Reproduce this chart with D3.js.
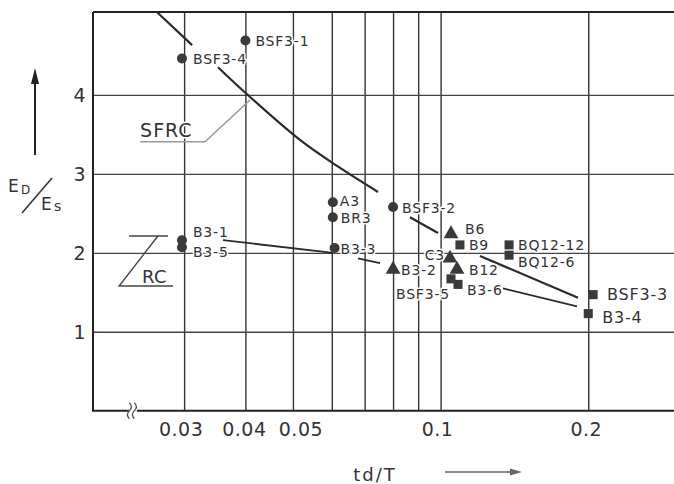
<!DOCTYPE html>
<html>
<head>
<meta charset="utf-8">
<script src="https://cdn.jsdelivr.net/npm/d3@7"></script>
<style>
  body { margin: 0; background: #fff; }
  text { font-family: "DejaVu Sans", sans-serif; fill: #333; }
  .lbl { font-size: 14px; letter-spacing: 0.8px; paint-order: stroke; stroke: #fff; stroke-width: 3px; stroke-linejoin: round; }
  .tick-lbl { font-size: 19px; letter-spacing: 0.5px; }
</style>
</head>
<body>
<div id="chart"></div>
<script>
// grid lines and tick labels
const xGrid = [0.03, 0.04, 0.05, 0.06, 0.07, 0.08, 0.09, 0.1, 0.2];
const xTickLabels = [0.03, 0.04, 0.05, 0.1, 0.2];
const yTicks = [1, 2, 3, 4];

// specimens: [name, td/T, ED/Es]
const circlePts = [
  ["BSF3-1", 0.04, 4.69],
  ["BSF3-4", 0.0297, 4.46],
  ["A3", 0.0603, 2.64],
  ["BR3", 0.0603, 2.45],
  ["BSF3-2", 0.08, 2.58],
  ["B3-3", 0.0608, 2.06],
  ["B3-1", 0.0297, 2.16],
  ["B3-5", 0.0297, 2.07],
];
const trianglePts = [
  ["B6", 0.105, 2.24],
  ["C3", 0.1045, 1.93],
  ["B3-2", 0.08, 1.79],
  ["B12", 0.108, 1.79],
];
const squarePts = [
  ["B9", 0.1095, 2.10],
  ["BQ12-12", 0.1379, 2.10],
  ["BQ12-6", 0.1379, 1.97],
  ["BSF3-5", 0.105, 1.67],
  ["B3-6", 0.1085, 1.60],
  ["BSF3-3", 0.2046, 1.47],
  ["B3-4", 0.2, 1.23],
];

// trend lines (drawn with gaps where labels sit)
const sfrcLine = [
  [[0.0264, 5.05], [0.03115, 4.63]],
  [[0.03517, 4.35], [0.03994, 4.03], [0.05168, 3.43], [0.0615, 3.10], [0.07454, 2.77]],
  [[0.08661, 2.45], [0.09879, 2.25]],
  [[0.1203, 1.96], [0.1906, 1.43]],
];
const rcLine = [
  [[0.03601, 2.16], [0.06035, 2.0]],
  [[0.06785, 1.93], [0.07523, 1.87]],
  [[0.134, 1.55], [0.1897, 1.32]],
];

// label offsets in px: [dx, dy, anchor, size]
const labelPos = {
  "BSF3-1": [10, 6], "BSF3-4": [11, 5], "A3": [7, 4], "BR3": [8, 6],
  "BSF3-2": [9, 6], "B3-3": [6, 6], "B3-1": [11, -3], "B3-5": [11, 10],
  "B6": [14, 0], "C3": [-5, 2, "end"], "B3-2": [8, 6], "B12": [12, 6],
  "B9": [9, 5], "BQ12-12": [9, 5], "BQ12-6": [9, 12], "BSF3-5": [-1, 20, "end"],
  "B3-6": [9, 11], "BSF3-3": [14, 5, "start", 16], "B3-4": [14, 9, "start", 16],
};
// tick label nudges (px)
const xTickShift = { 0.03: -3, 0.04: -1, 0.05: 8, 0.1: -3, 0.2: -2 };

const W = 674, H = 484;
const plot = { left: 93, top: 12, right: 674, bottom: 410.7 };

const svg = d3.select("#chart").append("svg").attr("width", W).attr("height", H);

const x = d3.scaleLog().domain([0.01956, 0.2991]).range([plot.left, plot.right]);
const y = d3.scaleLinear().domain([0, 5.05]).range([plot.bottom, plot.top]);

// vertical grid
svg.append("g")
  .attr("transform", `translate(0,${plot.bottom})`)
  .call(d3.axisBottom(x).tickValues(xGrid).tickSize(-(plot.bottom - plot.top)).tickFormat(""))
  .call((g) => g.select(".domain").remove())
  .selectAll("line").attr("stroke", "#333").attr("stroke-width", 1.4);

// horizontal grid
svg.append("g")
  .attr("transform", `translate(${plot.left},0)`)
  .call(d3.axisLeft(y).tickValues(yTicks).tickSize(-(plot.right - plot.left)).tickFormat(""))
  .call((g) => g.select(".domain").remove())
  .selectAll("line").attr("stroke", "#444").attr("stroke-width", 1.3);

// frame: left, bottom, top
svg.append("path")
  .attr("d", `M${plot.left},${plot.top}H${plot.right}M${plot.left},${plot.top}V${plot.bottom}H${plot.right}`)
  .attr("fill", "none").attr("stroke", "#222").attr("stroke-width", 2);

// axis break mark
const bx = x(0.02359);
svg.append("rect").attr("x", bx - 4).attr("y", plot.bottom - 3).attr("width", 8).attr("height", 6).attr("fill", "#fff");
[-2.5, 2.5].forEach((o) => {
  svg.append("path")
    .attr("d", `M${bx + o - 1},${plot.bottom - 8} q4,4 0,8 q-4,4 0,8`)
    .attr("fill", "none").attr("stroke", "#555").attr("stroke-width", 1.3);
});

// tick labels
svg.selectAll(".xl").data(xTickLabels).enter().append("text")
  .attr("class", "tick-lbl").attr("x", (d) => x(d) + xTickShift[d]).attr("y", 436)
  .attr("text-anchor", "middle").text((d) => d3.format("")(d));
svg.selectAll(".yl").data(yTicks).enter().append("text")
  .attr("class", "tick-lbl").attr("x", plot.left - 7).attr("y", (d) => y(d) + 7)
  .attr("text-anchor", "end").text((d) => d);

// trend lines
const line = d3.line().x((d) => x(d[0])).y((d) => y(d[1])).curve(d3.curveCatmullRom);
svg.selectAll(".sfrc").data(sfrcLine).enter().append("path")
  .attr("d", line).attr("fill", "none").attr("stroke", "#2a2a2a").attr("stroke-width", 2.2);
svg.selectAll(".rc").data(rcLine).enter().append("path")
  .attr("d", line).attr("fill", "none").attr("stroke", "#2a2a2a").attr("stroke-width", 1.8);

// markers
const mark = "#3a3a3a";
svg.selectAll(".dot").data(circlePts).enter().append("circle")
  .attr("cx", (d) => x(d[1])).attr("cy", (d) => y(d[2])).attr("r", 5).attr("fill", mark);
svg.selectAll(".tri").data(trianglePts).enter().append("path")
  .attr("transform", (d) => `translate(${x(d[1])},${y(d[2])})`)
  .attr("d", d3.symbol(d3.symbolTriangle, 95)).attr("fill", mark);
svg.selectAll(".sq").data(squarePts).enter().append("path")
  .attr("transform", (d) => `translate(${x(d[1])},${y(d[2])})`)
  .attr("d", d3.symbol(d3.symbolSquare, 82)).attr("fill", mark);

// specimen labels
const allPts = circlePts.concat(trianglePts, squarePts);
svg.selectAll(".lbl").data(allPts).enter().append("text")
  .attr("class", "lbl")
  .attr("x", (d) => x(d[1]) + labelPos[d[0]][0])
  .attr("y", (d) => y(d[2]) + labelPos[d[0]][1])
  .attr("text-anchor", (d) => labelPos[d[0]][2] || "start")
  .style("font-size", (d) => (labelPos[d[0]][3] || 14) + "px")
  .text((d) => d[0]);

// SFRC / RC annotations (data coords)
const sfrcLeader = [[0.0244, 3.407], [0.03309, 3.407], [0.04087, 3.935]];
const rcLeader = [[0.02317, 2.213], [0.02782, 2.213], null, [0.02653, 2.213], [0.02211, 1.579], [0.02848, 1.579]];
const straight = d3.line().defined((d) => d).x((d) => x(d[0])).y((d) => y(d[1]));
svg.append("path").attr("d", straight(sfrcLeader)).attr("fill", "none").attr("stroke", "#999").attr("stroke-width", 1.5);
svg.append("path").attr("d", straight(rcLeader)).attr("fill", "none").attr("stroke", "#444").attr("stroke-width", 1.4);
svg.append("text").attr("class", "lbl").attr("x", x(0.0244)).attr("y", y(3.467))
  .style("font-size", "19px").style("letter-spacing", "1px").text("SFRC");
svg.append("text").attr("x", x(0.02462)).attr("y", y(1.617))
  .style("font-size", "18px").style("letter-spacing", "0.5px").text("RC");

// y title: ED / Es with arrow
const yt = svg.append("g");
yt.append("line").attr("x1", 35).attr("x2", 35).attr("y1", 155).attr("y2", 80).attr("stroke", "#222").attr("stroke-width", 2);
yt.append("path").attr("d", "M35,68 L31,84 L39,84 Z").attr("fill", "#222");
yt.append("text").attr("x", 8).attr("y", 192).style("font-size", "17px").text("E");
yt.append("text").attr("x", 21).attr("y", 194).style("font-size", "12px").text("D");
yt.append("line").attr("x1", 22).attr("y1", 213).attr("x2", 52).attr("y2", 178).attr("stroke", "#333").attr("stroke-width", 1.6);
yt.append("text").attr("x", 41).attr("y", 210).style("font-size", "17px").text("E");
yt.append("text").attr("x", 54).attr("y", 211).style("font-size", "14px").text("s");

// x title with arrow
svg.append("text").attr("x", 375).attr("y", 481).attr("text-anchor", "middle")
  .style("font-size", "18px").style("letter-spacing", "2px").text("td/T");
svg.append("line").attr("x1", 445).attr("x2", 512).attr("y1", 472).attr("y2", 472).attr("stroke", "#666").attr("stroke-width", 1.5);
svg.append("path").attr("d", "M522,472 L510,468.5 L510,475.5 Z").attr("fill", "#666");
</script>
</body>
</html>
